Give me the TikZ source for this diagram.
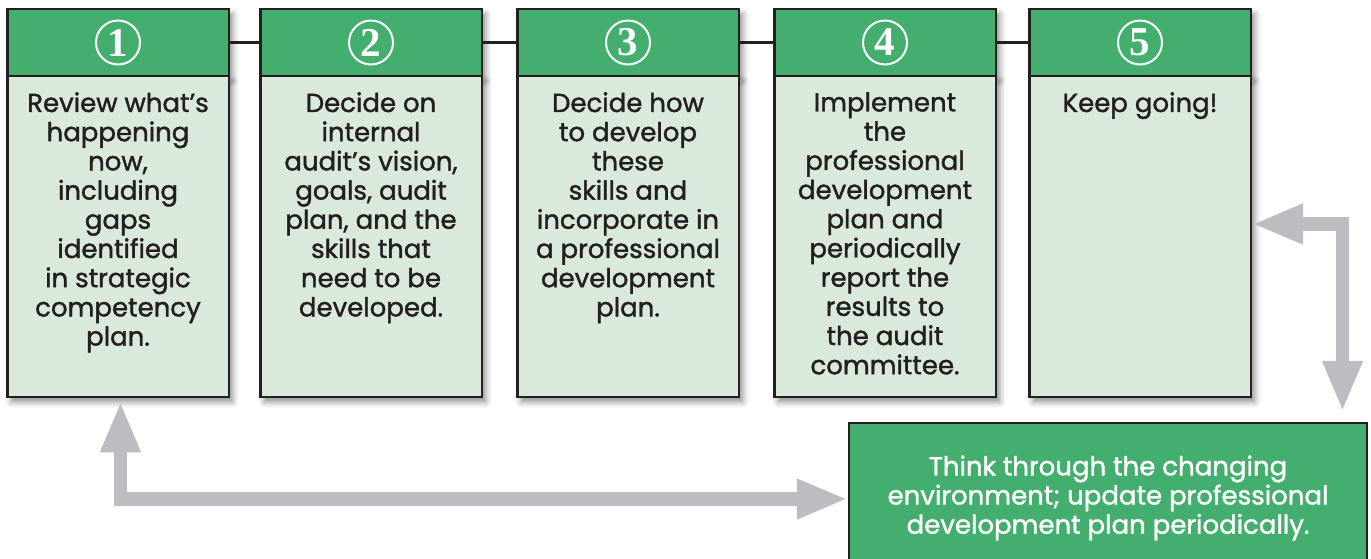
\documentclass[tikz,border=0pt]{standalone}
\usepackage{fontspec}
\setmainfont{Poppins}
\newfontfamily\txtfont{Poppins}[FakeBold=1.4]
\newfontfamily\numfont{Liberation Serif}
\usetikzlibrary{arrows.meta,shadows.blur,calc}
\definecolor{hdr}{HTML}{43AE6E}
\definecolor{bodyc}{HTML}{D9E9DC}
\definecolor{ink}{HTML}{231F20}
\definecolor{arr}{HTML}{BCBDC0}
\begin{document}
\begin{tikzpicture}[x=1pt,y=-1pt,
  shade/.style={blur shadow={shadow xshift=4pt,shadow yshift=-5pt,shadow blur radius=6pt,shadow opacity=45}},
  hdrbox/.style={draw=ink,line width=2.5pt,fill=hdr,minimum width=221.5pt,minimum height=67pt,inner sep=0pt,shade},
  bodybox/.style={draw=ink,line width=2.5pt,fill=bodyc,minimum width=221.5pt,minimum height=321pt,inner sep=0pt,shade},
  numc/.style={circle,draw=white,line width=2pt,minimum size=44pt,inner sep=0pt,text=white,font=\numfont\bfseries\fontsize{41}{41}\selectfont},
  bodytxt/.style={anchor=north,align=center,inner sep=0pt,text=ink,font=\txtfont\fontsize{26}{29.2}\selectfont},
  link/.style={draw=ink,line width=2.5pt},
  garrow/.style={draw=arr,line width=13.5pt,line join=miter,{Triangle[width=37pt,length=51pt]}-{Triangle[width=37pt,length=51pt]}},
  botbox/.style={draw=ink,line width=2.5pt,fill=hdr,minimum width=518pt,minimum height=152pt,inner sep=0pt},
  bottxt/.style={align=center,inner sep=0pt,text=white,font=\txtfont\fontsize{26}{29.2}\selectfont}]
\clip (0,0) rectangle (1371,558);
% columns
\foreach \i/\cx in {1/118,2/371,3/628,4/885,5/1140}{
  \node[hdrbox] (h\i) at (\cx,42.5) {};
  \node[bodybox] (b\i) at (\cx,236.5) {};
  \node[numc] (n\i) at (h\i.center) {\i};
}
\draw[link] (h1.east) -- (h2.west);
\draw[link] (h2.east) -- (h3.west);
\draw[link] (h3.east) -- (h4.west);
\draw[link] (h4.east) -- (h5.west);
\node[bodytxt] (t1) at (118,92) {Review what’s\\happening\\now,\\including\\gaps\\identified\\in strategic\\competency\\plan.};
\node[bodytxt] (t2) at (371,92) {Decide on\\internal\\audit’s vision,\\goals, audit\\plan, and the\\skills that\\need to be\\developed.};
\node[bodytxt] (t3) at (628,92) {Decide how\\to develop\\these\\skills and\\incorporate in\\a professional\\development\\plan.};
\node[bodytxt] (t4) at (885,92) {Implement\\the\\professional\\development\\plan and\\periodically\\report the\\results to\\the audit\\committee.};
\node[bodytxt] (t5) at (1140,92) {Keep going!};
% bottom box
\node[botbox] (bot) at (1108,499) {};
\node[bottxt] (botl) at (1108,498) {Think through the changing\\environment; update professional\\development plan periodically.};
% arrows
\draw[garrow] ([xshift=2.5pt,yshift=-3pt]b1.south) |- (bot.west);
\draw[garrow] ([yshift=12.5pt]b5.east) -| ([xshift=234.5pt,yshift=10pt]bot.north);
\end{tikzpicture}
\end{document}
